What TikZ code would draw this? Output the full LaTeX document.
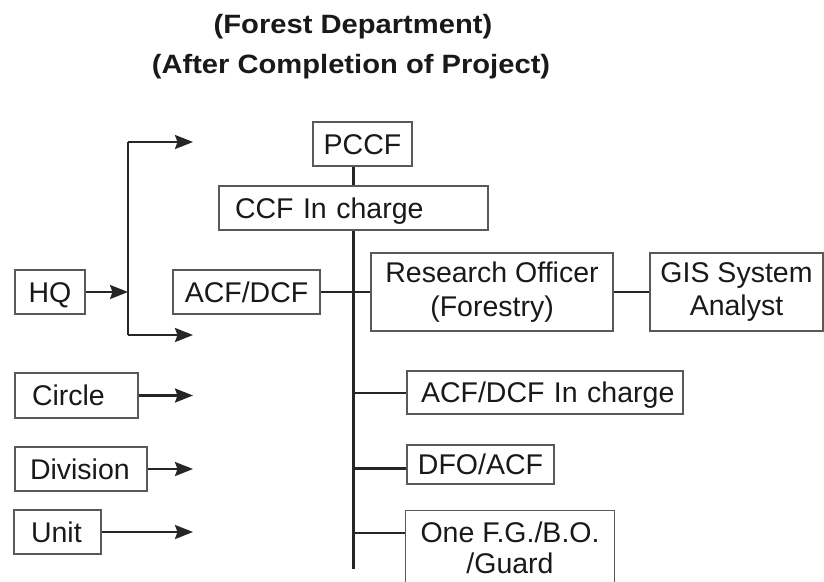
\documentclass[tikz,border=0pt]{standalone}
\usepackage{fontspec}
\setmainfont{Liberation Sans}
\newfontfamily\titlefont[FakeStretch=1.1]{Liberation Sans}
\usetikzlibrary{arrows.meta}
\pgfdeclarelayer{edgelayer}
\pgfdeclarelayer{nodelayer}
\pgfsetlayers{edgelayer,nodelayer,main}
\tikzset{font=\fontsize{28.5}{33.5}\selectfont}
\tikzstyle{none}=[inner sep=0pt]
\tikzstyle{box}=[draw=black!65,line width=1.3pt,text=black!90,inner sep=0pt,minimum height=44pt,text height=21pt,text depth=1pt]
\tikzstyle{lbox}=[box,align=left]
\tikzstyle{tbox}=[draw=black!65,line width=1.3pt,text=black!90,inner sep=0pt,align=center]
\tikzstyle{title}=[anchor=base,text=black!90,font=\titlefont\bfseries\fontsize{26.5}{30}\selectfont]
\tikzstyle{wire}=[line width=2.4pt,draw=black!85]
\tikzstyle{arr}=[wire,-{Stealth[length=18pt,width=14pt,inset=2.5pt]}]

\begin{document}
\begin{tikzpicture}[x=1pt,y=-1pt]
	\useasboundingbox (0,0) rectangle (824,581);
	\begin{pgfonlayer}{nodelayer}
		\node [style=title] (12) at (353, 33) {(Forest Department)};
		\node [style=title] (13) at (351, 73) {(After Completion of Project)};
		\node [style=box,minimum width=99pt] (0) at (362.5, 144) {PCCF};
		\node [style=lbox,inner xsep=16pt,text width=237pt] (1) at (353.5, 208) {CCF In charge};
		\node [style=box,minimum width=70pt] (2) at (50, 292) {HQ};
		\node [style=box,minimum width=147pt] (3) at (246.5, 292) {ACF/DCF};
		\node [style=tbox,minimum width=242pt,minimum height=78pt] (4) at (492, 292) {Research Officer\\(Forestry)};
		\node [style=tbox,minimum width=173pt,minimum height=78pt] (5) at (736.5, 292) {GIS System\\Analyst};
		\node [style=lbox,inner xsep=17pt,text width=89pt,minimum height=45pt] (6) at (76.5, 395.5) {Circle};
		\node [style=lbox,inner xsep=15pt,text width=102pt] (7) at (81, 469) {Division};
		\node [style=lbox,inner xsep=17pt,text width=53pt] (8) at (57.5, 532) {Unit};
		\node [style=lbox,inner xsep=14pt,text width=248pt,minimum height=43pt] (9) at (545, 392.5) {\mbox{ACF/DCF In charge}};
		\node [style=box,minimum width=147pt,minimum height=39pt] (10) at (480.5, 464.5) {DFO/ACF};
		\node [style=tbox,anchor=north,minimum width=209pt,inner ysep=11pt,font=\fontsize{28.5}{31}\selectfont] (11) at (510, 510) {One F.G./B.O.\\/Guard};
		\node [style=none] (14) at (128, 292) {};
		\node [style=none] (15) at (128, 142) {};
		\node [style=none] (16) at (128, 335) {};
		\node [style=none] (17) at (193, 142) {};
		\node [style=none] (18) at (193, 335) {};
		\node [style=none] (19) at (193, 395.5) {};
		\node [style=none] (20) at (193, 469) {};
		\node [style=none] (21) at (193, 532) {};
		\node [style=none] (22) at (353.5, 569) {};
		\node [style=none] (23) at (353.5, 393) {};
		\node [style=none] (24) at (353.5, 468.5) {};
		\node [style=none] (25) at (353.5, 533) {};
	\end{pgfonlayer}
	\begin{pgfonlayer}{edgelayer}
		\draw [style=wire] (1.north) to (1.north |- 0.south);
		\draw [style=wire] (1.south) to (22.center);
		\draw [style=wire] (3.east) to (4.west);
		\draw [style=wire] (4.east) to (5.west);
		\draw [style=wire] (23.center) to (23.center -| 9.west);
		\draw [style=wire] (24.center) to (24.center -| 10.west);
		\draw [style=wire] (25.center) to (25.center -| 11.west);
		\draw [style=arr] (2.east) to (14.center);
		\draw [style=wire] (15.center) to (16.center);
		\draw [style=arr] (15.center) to (17.center);
		\draw [style=arr] (16.center) to (18.center);
		\draw [style=arr] (6.east) to (19.center);
		\draw [style=arr] (7.east) to (20.center);
		\draw [style=arr] (8.east) to (21.center);
	\end{pgfonlayer}
\end{tikzpicture}
\end{document}
